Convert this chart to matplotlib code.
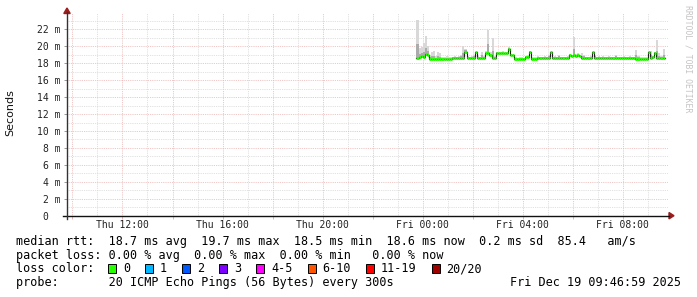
import pandas as pd
import matplotlib
matplotlib.use("Agg")
import matplotlib.pyplot as plt
import matplotlib.dates as mdates
from matplotlib.ticker import MultipleLocator, FuncFormatter
from matplotlib.patches import Polygon, Rectangle
from matplotlib.lines import Line2D

W, H = 697, 297
MONO = "DejaVu Sans Mono"

# time window shown (24 h ending at the graph timestamp)
view_start = "2025-12-18 09:46:59"
view_end = "2025-12-19 09:46:59"

# 5 minute samples, first one at Thu 23:45
data_start = "2025-12-18 23:45"
median_ms = [
    18.65, 18.70, 18.80, 18.75, 19.05, 19.00,
    18.50, 18.50, 18.50, 18.50, 18.50, 18.50, 18.50, 18.50, 18.50, 18.50, 18.50,
    18.65, 18.65, 18.65, 18.65, 18.65, 18.65,
    19.35,
    18.65, 18.65, 18.65, 18.65,
    19.30,
    18.65, 18.65, 18.65, 18.65,
    19.20, 19.20, 19.00, 18.60, 18.60,
    19.15, 19.15, 19.15, 19.15, 19.15, 19.15,
    19.68, 18.95, 18.95,
    18.52, 18.52, 18.52, 18.52, 18.52,
    18.75, 18.75, 19.30,
    18.55, 18.55, 18.55,
    18.65, 18.65, 18.65, 18.65, 18.65, 18.65,
    19.30,
    18.65, 18.65, 18.65, 18.65, 18.65, 18.65, 18.65, 18.65,
    18.95, 18.85, 18.95, 18.90, 19.00, 18.85,
    18.65, 18.65, 18.65, 18.65, 18.65,
    19.30,
    18.65, 18.65, 18.65, 18.65, 18.65, 18.65, 18.65, 18.65, 18.65, 18.65,
    18.65, 18.65, 18.65, 18.65, 18.65, 18.65, 18.65, 18.65, 18.65, 18.65,
    18.52, 18.52, 18.52, 18.52, 18.52, 18.52,
    19.30, 18.60, 18.70, 19.20,
    18.65, 18.65, 18.65, 18.60,
]
smoke_max_ms = [
    23.2, 19.95, 20.0, 20.5, 21.3, 20.2,
    19.1, 19.4, 19.6, 19.0, 19.5, 19.3, 18.9, 18.9, 19.0, 18.8, 18.9,
    18.9, 19.0, 18.9, 19.0, 19.1, 20.15,
    19.8,
    19.0, 18.9, 19.0, 19.1,
    19.5,
    19.0, 18.9, 19.5, 19.0,
    19.6, 22.1, 19.4, 21.1, 19.0,
    19.5, 19.3, 19.4, 19.6, 19.3, 19.4,
    20.0, 19.2, 19.0,
    18.8, 18.7, 18.8, 18.8, 18.7,
    19.0, 19.1, 19.6,
    18.9, 18.8, 18.9,
    19.0, 18.9, 18.9, 19.0, 18.9, 19.1,
    19.5,
    18.9, 19.0, 18.9, 19.1, 18.9, 18.9, 18.9, 19.0,
    19.2, 19.1, 21.2, 19.2, 19.3, 19.1,
    19.3, 19.1, 18.9, 18.9, 19.0,
    19.4,
    19.1, 18.9, 19.0, 18.9, 19.0, 18.9, 18.9, 19.0, 18.9, 18.9,
    19.1, 18.9, 18.9, 18.9, 19.0, 18.9, 18.9, 19.0, 18.9, 18.9,
    19.7, 19.0, 18.8, 18.8, 18.9, 18.8,
    19.5, 19.6, 19.0, 19.4,
    20.9, 19.3, 19.0, 19.8,
]

rtt_line = "median rtt:  18.7 ms avg  19.7 ms max  18.5 ms min  18.6 ms now  0.2 ms sd  85.4   am/s"
loss_line = "packet loss: 0.00 % avg  0.00 % max  0.00 % min   0.00 % now"
loss_labels = ["0", "1", "2", "3", "4-5", "6-10", "11-19", "20/20"]
loss_colors = ["#26ff00", "#00b8ff", "#0059ff", "#7e00ff", "#ff00ff", "#ff5500", "#ff0000", "#a10000"]
probe_line = "probe:       20 ICMP Echo Pings (56 Bytes) every 300s"
stamp = "Fri Dec 19 09:46:59 2025"


def fx(px):
    return px / W


def fy(py):
    return 1 - py / H


fig = plt.figure(figsize=(W / 100, H / 100), dpi=100)
fig.patch.set_facecolor("white")

# plot area in pixels: x 67..667.5, y 215.7 (0 ms) .. top
px_per_ms = 8.47
ymax = 23.95
y0 = 215.7
ax = fig.add_axes([fx(67), fy(y0), (667.5 - 67) / W, ymax * px_per_ms / H])
ax.set_facecolor("white")
for s in ax.spines.values():
    s.set_visible(False)

times = pd.date_range(data_start, periods=len(median_ms), freq="5min")
t = mdates.date2num(times.to_pydatetime())
step = 5 / 1440.0

# smoke
hi = [m - s for m, s in zip(smoke_max_ms, median_ms)]
ax.bar(t, hi, bottom=[m - 0.12 for m in median_ms], width=step, align="edge",
       color="#d8d8d8", linewidth=0, zorder=2)
ax.bar(t, [h * 0.35 + 0.1 for h in hi], bottom=[m - 0.1 for m in median_ms], width=step,
       align="edge", color="#ababab", linewidth=0, zorder=2)

# median: dark step line with loss-coloured segments on top
edges = list(t) + [t[-1] + step]
ax.step(edges, median_ms + [median_ms[-1]], where="post", color="#202020", lw=0.8, zorder=3)
ax.hlines(median_ms, t, t + step, color=loss_colors[0], lw=2.1, zorder=4)

ax.set_xlim(pd.Timestamp(view_start), pd.Timestamp(view_end))
ax.set_ylim(0, ymax)

ax.yaxis.set_major_locator(MultipleLocator(2))
ax.yaxis.set_minor_locator(MultipleLocator(1))
ax.yaxis.set_major_formatter(FuncFormatter(lambda v, p: "0  " if v == 0 else f"{v:.0f} m"))
ax.xaxis.set_major_locator(mdates.HourLocator(byhour=range(0, 24, 2)))
ax.xaxis.set_minor_locator(mdates.HourLocator())


def xfmt(v, p):
    d = mdates.num2date(v)
    return d.strftime("%a %H:%M") if d.hour % 4 == 0 else ""


ax.xaxis.set_major_formatter(FuncFormatter(xfmt))

ax.grid(which="minor", color="#d6d6d6", ls=(0, (1, 1.2)), lw=0.6, zorder=0)
ax.grid(which="major", color="#ebb3b3", ls=(0, (1, 1.2)), lw=0.6, zorder=0)
ax.set_axisbelow(True)

ax.tick_params(axis="y", which="major", length=2.2, width=0.7, color="#999999", pad=2.5,
               labelsize=7, labelcolor="#222222")
ax.tick_params(axis="y", which="minor", length=0)
ax.tick_params(axis="x", which="major", length=2.2, width=0.7, color="#ebb3b3", pad=1.0,
               labelsize=7, labelcolor="#222222")
ax.tick_params(axis="x", which="minor", length=0)
for lab in ax.get_xticklabels() + ax.get_yticklabels():
    lab.set_family(MONO)

# axes with arrows
fig.add_artist(Line2D([fx(63), fx(669)], [fy(y0), fy(y0)], color="#111111", lw=1.0))
fig.add_artist(Line2D([fx(67), fx(67)], [fy(219), fy(12)], color="#333333", lw=1.0))
fig.add_artist(Polygon([(fx(669), fy(212.5)), (fx(669), fy(218.9)), (fx(674), fy(y0))],
                       closed=True, color="#9c1c1c"))
fig.add_artist(Polygon([(fx(63.8), fy(13.5)), (fx(70.2), fy(13.5)), (fx(67), fy(8))],
                       closed=True, color="#9c1c1c"))

fig.text(fx(10), fy(113), "Seconds", rotation=90, ha="center", va="center",
         fontsize=8, family="DejaVu Sans", color="#111111")
fig.text(fx(688), fy(5), "RRDTOOL / TOBI OETIKER", rotation=270, ha="center", va="top",
         fontsize=5.9, family=MONO, color="#c4c4c4")

# legend block
fs = 8.5
fig.text(fx(16), fy(245), rtt_line, ha="left", va="baseline", fontsize=fs, family=MONO)
fig.text(fx(16), fy(258.6), loss_line, ha="left", va="baseline", fontsize=fs, family=MONO)
fig.text(fx(16), fy(272.3), "loss color:", ha="left", va="baseline", fontsize=fs, family=MONO)
bx = 108.3
for lab, col in zip(loss_labels, loss_colors):
    fig.add_artist(Rectangle((fx(bx), fy(273.3)), 8 / W, 9 / H, facecolor=col,
                             edgecolor="#000000", lw=0.7))
    fig.text(fx(bx + 14.7), fy(272.3), lab, ha="left", va="baseline", fontsize=fs, family=MONO)
    bx += 29.9 + 7.12 * len(lab)
fig.text(fx(16), fy(286), probe_line, ha="left", va="baseline", fontsize=fs, family=MONO)
fig.text(fx(680.5), fy(286), stamp, ha="right", va="baseline", fontsize=fs, family=MONO)

fig.savefig("out.png", dpi=100, facecolor="white")
